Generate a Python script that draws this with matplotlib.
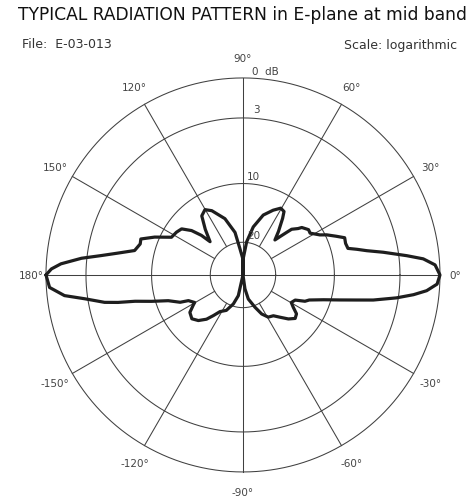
import numpy as np
import matplotlib.pyplot as plt

# E-plane pattern: angle (deg) and level below peak (dB)
angle_deg = [-180, -176.3, -173.4, -171.4, -168.8, -167.6, -166.3, -163.9, -161, -156.5,
             -154.8, -150.3, -148.9, -144.8, -139.4, -134.4, -129.5, -126.1, -122.1, -115.2,
             -108.4, -102.7, -90,
             -81.9, -77.5, -69.6, -64.4, -59.1, -53.3, -48.8, -44.1, -39.8, -36, -32.7,
             -29.7, -25.7, -23, -20.7, -17.1, -14.5, -12.4, -10.9, -8.5, -6.6, -4.9, -2.7,
             0, 3.0, 5.1, 6.7, 9.2, 11.1, 12.7, 14.2, 17.1, 20.1, 22.6, 25.6, 27.5, 31.9,
             34.6, 35.8, 38.9, 40.1, 43.2, 44.3, 46.0, 47.6, 50.8, 55.0, 57.1, 60.5, 65.0,
             71.3, 77.9, 83.7, 89.0, 90,
             91, 96.6, 100.6, 107.8, 115.9, 120.2, 124.9, 129.6, 134.7, 136.4, 139.2,
             143.1, 147.3, 152.2, 156.8, 160.6, 163.2, 167.3, 170.1, 172.2, 174.1, 176.5,
             178.2, 180]
level_db = [0, 0.24, 1.3, 2.8, 4.7, 6.1, 7.9, 9.6, 12.1, 13.9,
            15.3, 16.1, 15.7, 14.5, 14.1, 14.7, 15.8, 17.0, 18.2, 18.9,
            21.3, 27.0, 40,
            31.4, 24.9, 19.7, 18.2, 17.2, 16.9, 16.0, 14.8, 14.0, 14.3, 15.4,
            16.1, 15.7, 14.1, 13.5, 11.2, 9.1, 7.3, 5.6, 3.2, 1.9, 0.95, 0.2,
            0, 0.35, 1.2, 2.4, 4.6, 6.3, 7.3, 8.2, 8.3, 8.2, 9.0, 9.85, 10.8, 12.1,
            12.0, 12.2, 12.7, 13.3, 14.2, 15.2, 16.5, 17.5, 16.0, 13.8, 12.7, 12.5, 13.4,
            14.8, 17.2, 19.9, 29.8, 40,
            29.8, 23.9, 18.2, 15.5, 13.4, 12.7, 13.3, 15.5, 17.6, 15.8, 14.0,
            12.5, 12.1, 11.8, 9.5, 8.2, 8.3, 7.9, 6.2, 4.5, 2.6, 1.1,
            0.4, 0]

# logarithmic radial scale: dB value -> fraction of outer radius
scale_db = [0, 3, 10, 20, 40]
scale_r = [1.0, 0.797, 0.464, 0.166, 0.0]
ring_db = [0, 3, 10, 20]
ring_labels = ['0  dB', '3', '10', '20']

spoke_deg = [30, 60, 120, 150, 210, 240, 300, 330]
axis_deg = [0, 90, 180, 270]
angle_labels = [0, 30, 60, 90, 120, 150, 180, -150, -120, -90, -60, -30]


def db_to_r(db):
    return np.interp(db, scale_db, scale_r)


fig = plt.figure(figsize=(4.73, 5.02), dpi=100)
ax = fig.add_axes([0.0972, 0.0578, 0.833, 0.785], projection='polar')
ax.set_ylim(0, 1)
ax.set_axis_off()

grid_kw = dict(color='#404040', lw=0.75, clip_on=False)
t = np.linspace(0, 2 * np.pi, 721)
for d in ring_db:
    ax.plot(t, np.full_like(t, db_to_r(d)), **grid_kw)
for a in spoke_deg:
    ax.plot([np.radians(a)] * 2, [db_to_r(20), 1], **grid_kw)
for a in axis_deg:
    ax.plot([np.radians(a)] * 2, [0, 1], **grid_kw)

# the pattern
ax.plot(np.radians(angle_deg), db_to_r(level_db), color='#1e1e1e', lw=2.3,
        clip_on=False, solid_joinstyle='round', solid_capstyle='round')

# angle labels round the outside
for a in angle_labels:
    rr = 1.075 if a in (0, 180) else 1.10
    ax.text(np.radians(a), rr, f'{a}°', ha='center', va='center',
            fontsize=7.5, color='#444444')

# dB labels up the 90 deg line
offsets = [(9, 7), (10, 9), (4, 8), (4, 7)]
for d, lab, off in zip(ring_db, ring_labels, offsets):
    ax.annotate(lab, xy=(np.pi / 2, db_to_r(d)), xytext=off, textcoords='offset pixels',
                ha='left', va='center', fontsize=7.5, color='#444444')

fig.text(18 / 473, 1 - 15 / 502, 'TYPICAL RADIATION PATTERN in E-plane at mid band',
         ha='left', va='center', fontsize=12.3, color='#111111')
fig.text(22 / 473, 1 - 45 / 502, 'File:  E-03-013', ha='left', va='center',
         fontsize=9, color='#333333')
fig.text(457 / 473, 1 - 45 / 502, 'Scale: logarithmic', ha='right', va='center',
         fontsize=9, color='#333333')

fig.savefig('out.png', dpi=100)
